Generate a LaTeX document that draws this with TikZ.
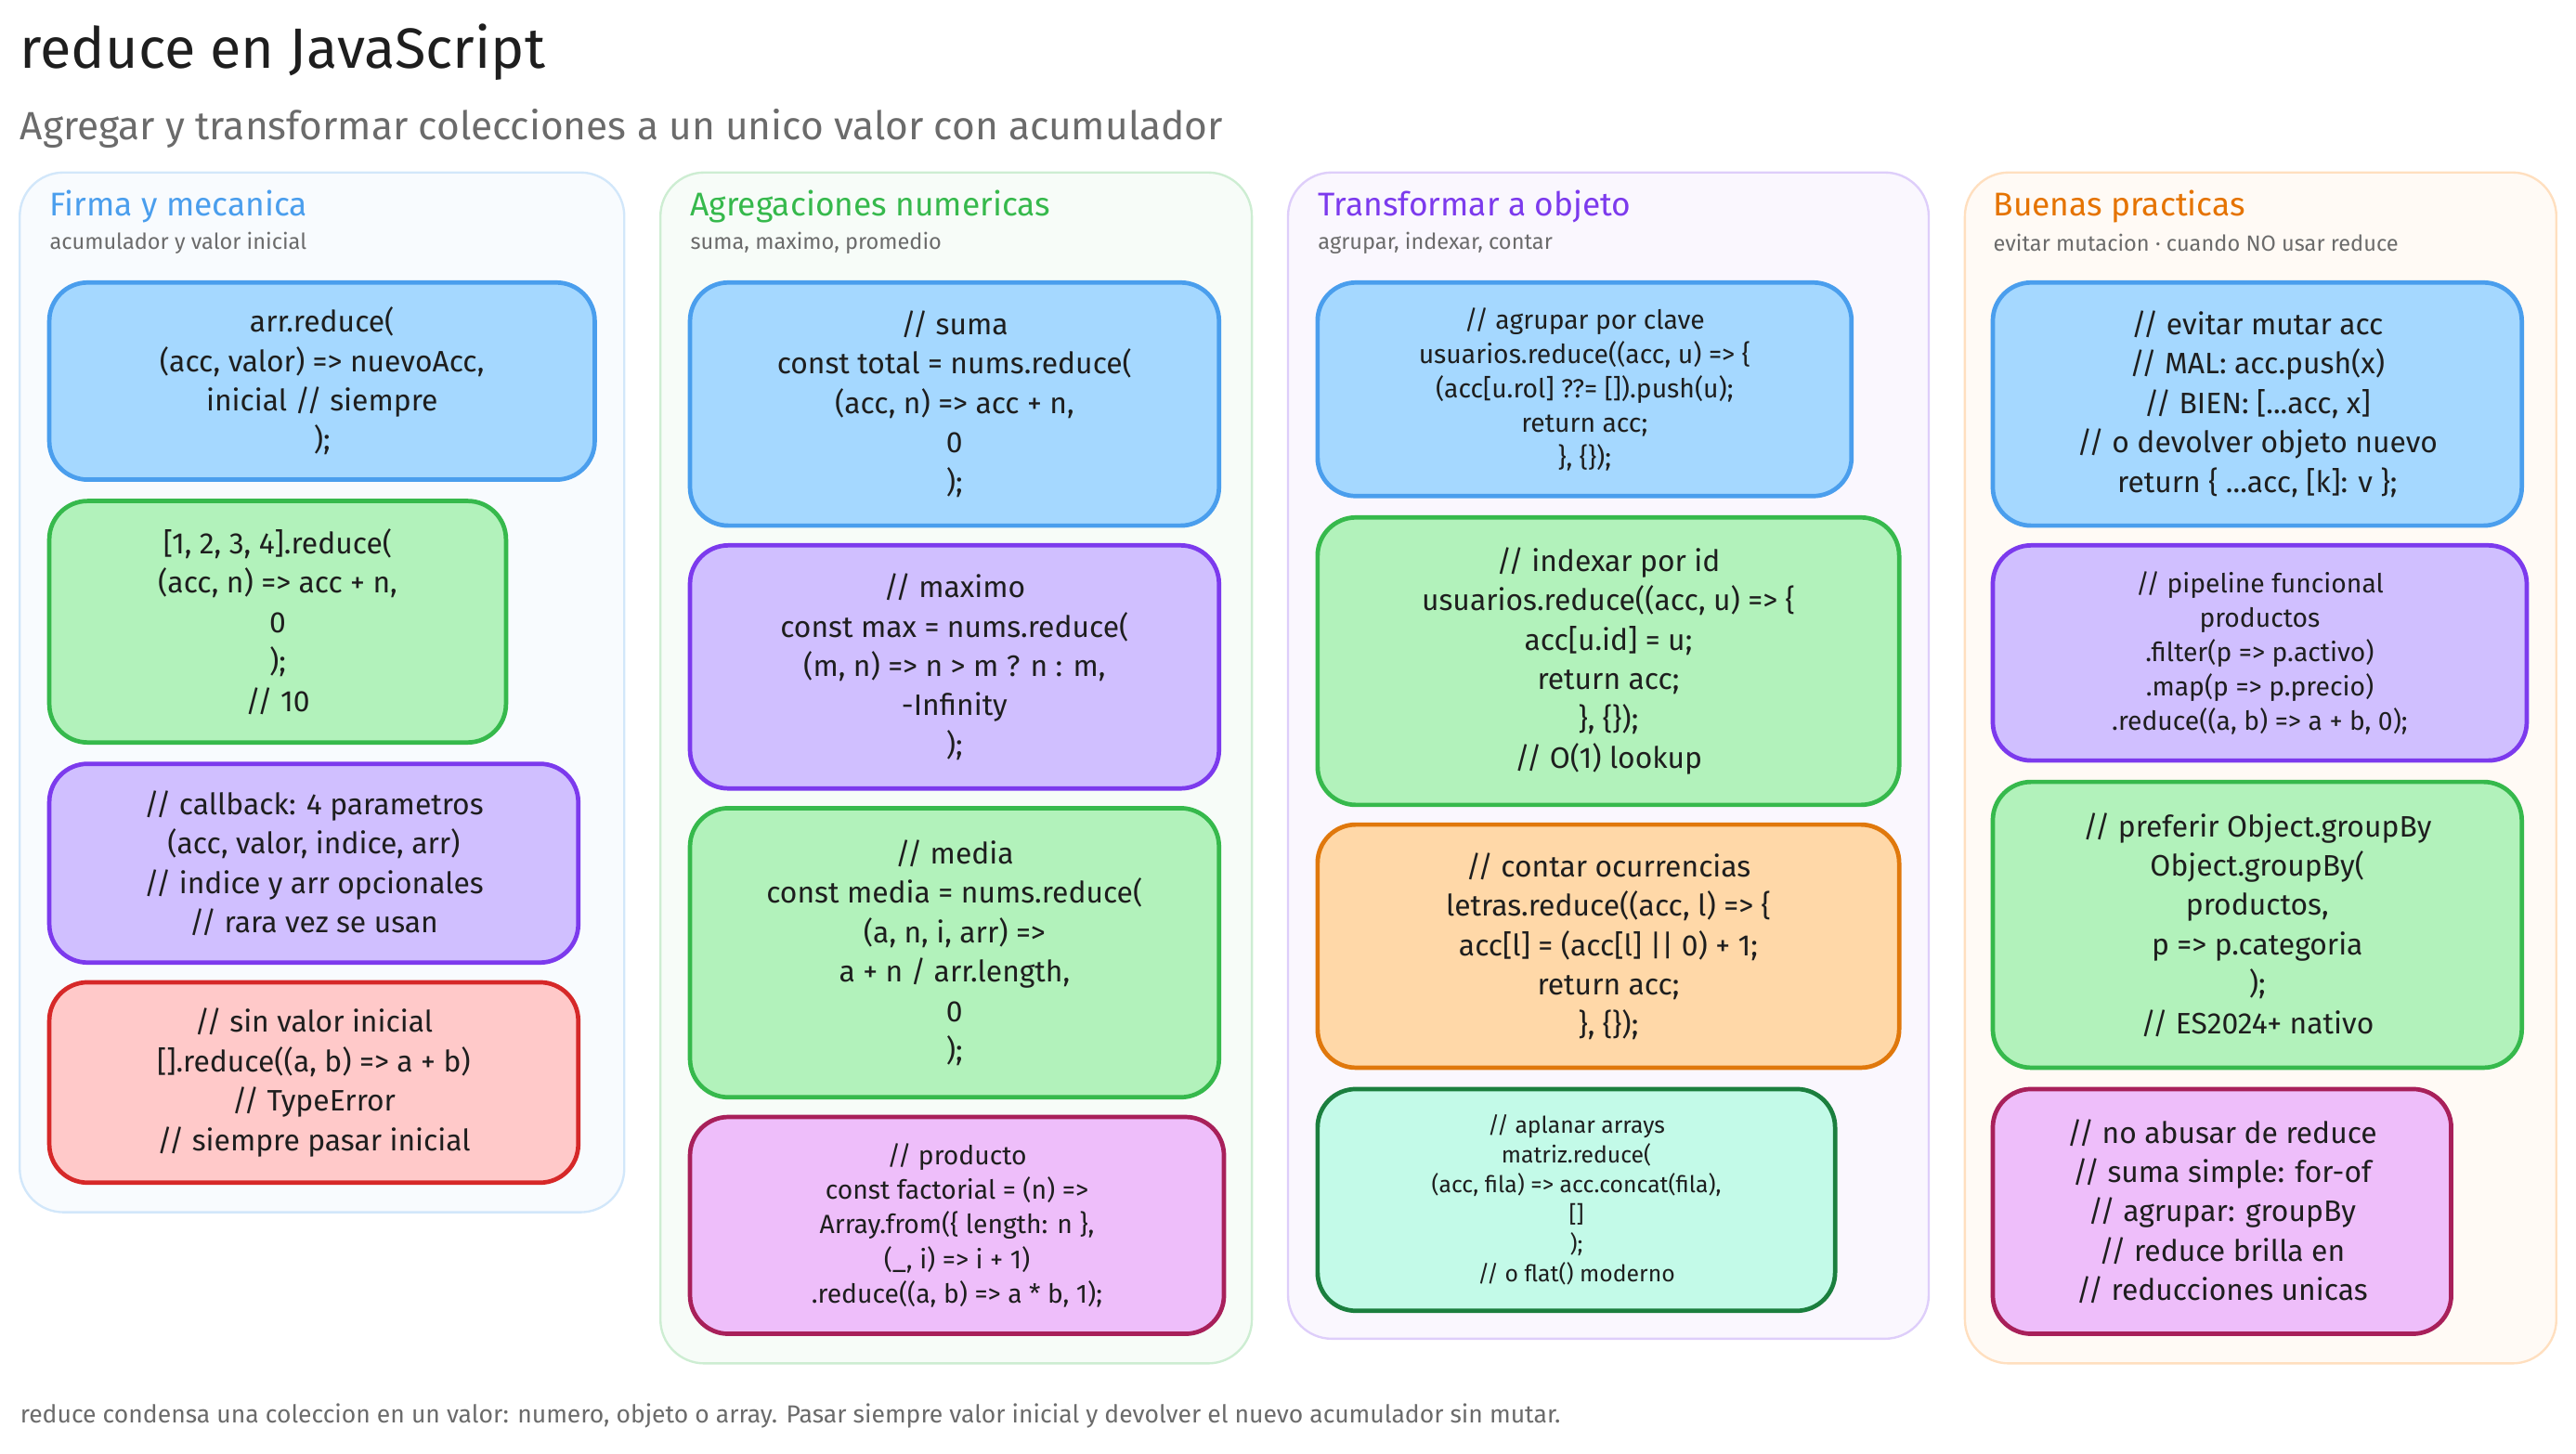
\documentclass[tikz,border=0pt]{standalone}
\usepackage{fontspec}
\setmainfont{Fira Sans}
\definecolor{blueF}{HTML}{A5D8FF}\definecolor{blueS}{HTML}{4A9EED}
\definecolor{greenF}{HTML}{B2F2BB}\definecolor{greenS}{HTML}{36B94C}
\definecolor{purpF}{HTML}{D0BFFF}\definecolor{purpS}{HTML}{7C3AED}
\definecolor{redF}{HTML}{FFC9C9}\definecolor{redS}{HTML}{D62828}
\definecolor{pinkF}{HTML}{EEBEFA}\definecolor{pinkS}{HTML}{A8205A}
\definecolor{orgF}{HTML}{FFD8A8}\definecolor{orgS}{HTML}{E0780C}
\definecolor{tealF}{HTML}{C3FAE8}\definecolor{tealS}{HTML}{1B7F3E}
\definecolor{ink}{HTML}{1E1E1E}\definecolor{muted}{HTML}{6B6B6B}
\newcommand{\codeL}{\fontsize{10.8}{14.4}\selectfont}
\newcommand{\codeM}{\fontsize{9.6}{12.6}\selectfont}
\newcommand{\codeS}{\fontsize{8.4}{10.8}\selectfont}
\newcommand{\codebox}[8]{%
  \node[box,fill=#2F,draw=#2S,minimum width={(#5-#3)*0.6pt},minimum height={(#6-#4)*0.6pt},font=#7]
    (#1) at ({(#3+#5)/2},{(#4+#6)/2}) {#8};}
\newcommand{\lane}[4]{%
  \draw[lanebox,fill=#4!4,draw=#4!25] (#1,105) rectangle (#2,#3);}
\begin{document}
\begin{tikzpicture}[x=0.6pt,y=-0.6pt,
    box/.style={draw,rounded corners=14pt,line width=1.6pt,align=center,text=ink,inner sep=2pt},
    lanebox/.style={rounded corners=16pt,line width=0.8pt},
    head/.style={anchor=west,inner sep=0pt,font=\large},
    subhead/.style={anchor=west,inner sep=0pt,font=\footnotesize,text=muted}]
  \useasboundingbox (0,0) rectangle (1568,885);

  \node[anchor=west,inner sep=0pt,font=\huge,text=ink] (title) at (12,32) {reduce en JavaScript};
  \node[anchor=west,inner sep=0pt,font=\Large,text=muted] (subtitle) at (12,78) {Agregar y transformar colecciones a un unico valor con acumulador};

  % columnas
  \lane{12}{380}{738}{blueS}
  \lane{402}{762}{830}{greenS}
  \lane{784}{1174}{815}{purpS}
  \lane{1196}{1556}{830}{orange}

  \node[head,text=blueS] (h1) at (30,126) {Firma y mecanica};
  \node[subhead] (s1) at (30,148) {acumulador y valor inicial};
  \node[head,text=greenS] (h2) at (420,126) {Agregaciones numericas};
  \node[subhead] (s2) at (420,148) {suma, maximo, promedio};
  \node[head,text=purpS] (h3) at (802,126) {Transformar a objeto};
  \node[subhead] (s3) at (802,148) {agrupar, indexar, contar};
  \node[head,text=orange!90!black] (h4) at (1213,126) {Buenas practicas};
  \node[subhead] (s4) at (1213,148) {evitar mutacion · cuando NO usar reduce};

  % firma y mecanica
  \codebox{sig}{blue}{30}{172}{362}{292}{\codeL}{arr.reduce(\\(acc, valor) => nuevoAcc,\\inicial // siempre\\);}
  \codebox{sum1}{green}{30}{305}{308}{452}{\codeL}{[1, 2, 3, 4].reduce(\\(acc, n) => acc + n,\\0\\);\\// 10}
  \codebox{cb}{purp}{30}{465}{352}{586}{\codeL}{// callback: 4 parametros\\(acc, valor, indice, arr)\\// indice y arr opcionales\\// rara vez se usan}
  \codebox{noinit}{red}{30}{598}{352}{720}{\codeL}{// sin valor inicial\\{}[].reduce((a, b) => a + b)\\// TypeError\\// siempre pasar inicial}

  % agregaciones
  \codebox{suma}{blue}{420}{172}{742}{320}{\codeL}{// suma\\const total = nums.reduce(\\(acc, n) => acc + n,\\0\\);}
  \codebox{maximo}{purp}{420}{332}{742}{480}{\codeL}{// maximo\\const max = nums.reduce(\\(m, n) => n > m ? n : m,\\-Infinity\\);}
  \codebox{media}{green}{420}{492}{742}{668}{\codeL}{// media\\const media = nums.reduce(\\(a, n, i, arr) =>\\a + n / arr.length,\\0\\);}
  \codebox{producto}{pink}{420}{680}{745}{812}{\codeM}{// producto\\const factorial = (n) =>\\Array.from(\{ length: n \},\\(\_, i) => i + 1)\\.reduce((a, b) => a * b, 1);}

  % transformar
  \codebox{agrupar}{blue}{802}{172}{1127}{302}{\codeM}{// agrupar por clave\\usuarios.reduce((acc, u) => \{\\(acc[u.rol] ??= []).push(u);\\return acc;\\\}, \{\});}
  \codebox{indexar}{green}{802}{315}{1156}{490}{\codeL}{// indexar por id\\usuarios.reduce((acc, u) => \{\\acc[u.id] = u;\\return acc;\\\}, \{\});\\// O(1) lookup}
  \codebox{contar}{org}{802}{502}{1156}{650}{\codeL}{// contar ocurrencias\\letras.reduce((acc, l) => \{\\acc[l] = (acc[l] || 0) + 1;\\return acc;\\\}, \{\});}
  \codebox{aplanar}{teal}{802}{663}{1117}{798}{\codeS}{// aplanar arrays\\matriz.reduce(\\(acc, fila) => acc.concat(fila),\\{}[]\\);\\// o flat() moderno}

  % buenas practicas
  \codebox{mutar}{blue}{1213}{172}{1535}{320}{\codeL}{// evitar mutar acc\\// MAL: acc.push(x)\\// BIEN: [...acc, x]\\// o devolver objeto nuevo\\return \{ ...acc, [k]: v \};}
  \codebox{pipeline}{purp}{1213}{332}{1538}{463}{\codeM}{// pipeline funcional\\productos\\.filter(p => p.activo)\\.map(p => p.precio)\\.reduce((a, b) => a + b, 0);}
  \codebox{groupby}{green}{1213}{476}{1535}{650}{\codeL}{// preferir Object.groupBy\\Object.groupBy(\\productos,\\p => p.categoria\\);\\// ES2024+ nativo}
  \codebox{abusar}{pink}{1213}{663}{1492}{812}{\codeL}{// no abusar de reduce\\// suma simple: for-of\\// agrupar: groupBy\\// reduce brilla en\\// reducciones unicas}

  \node[anchor=west,inner sep=0pt,font=\small,text=muted] (footer) at (12,862) {reduce condensa una coleccion en un valor: numero, objeto o array. Pasar siempre valor inicial y devolver el nuevo acumulador sin mutar.};
\end{tikzpicture}
\end{document}
